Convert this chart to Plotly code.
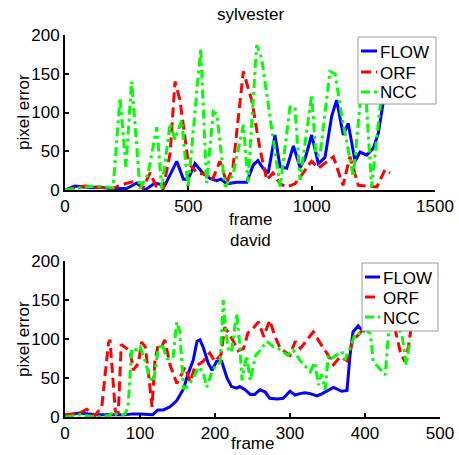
import plotly.graph_objects as go
from plotly.subplots import make_subplots

########## sylvester (frames) ##########
syl_flow_frame = [0, 40, 101, 142, 182, 250, 291, 324, 365, 405, 453, 480, 499, 527, 561, 588, 615, 632, 656,
                  696, 737, 763, 782, 803, 824, 851, 872, 899, 926, 953, 973, 1000, 1027, 1054, 1081, 1101,
                  1128, 1148, 1176, 1196, 1223, 1250, 1270, 1290, 1301]
syl_flow_err = [0, 5, 3, 4, 2, 2, 9, 0, 9, 6, 37, 14, 14, 34, 21, 15, 12, 14, 8,
                10, 10, 32, 38, 28, 22, 71, 30, 28, 57, 29, 40, 71, 34, 42, 95, 116,
                71, 86, 37, 49, 45, 54, 73, 113, 125]

syl_orf_frame = [0, 40, 81, 142, 195, 215, 243, 291, 316, 345, 369, 397, 426, 446, 466, 500, 534, 574, 596,
                 628, 656, 681, 723, 757, 791, 818, 843, 872, 899, 932, 966, 986, 1000, 1027, 1054, 1088,
                 1127, 1155, 1189, 1220, 1264, 1297, 1318]
syl_orf_err = [0, 3, 5, 3, 2, 5, 8, 12, 3, 22, 5, 0, 47, 140, 116, 35, 22, 20, 12,
               37, 9, 30, 153, 116, 52, 13, 22, 8, 4, 8, 22, 32, 37, 28, 35, 43,
               6, 43, 6, 5, 4, 26, 22]

syl_ncc_frame = [0, 61, 122, 195, 223, 247, 270, 304, 336, 372, 392, 426, 446, 473, 499, 550, 574, 601, 615,
                 649, 681, 723, 742, 777, 797, 872, 912, 932, 953, 1000, 1017, 1034, 1074, 1095, 1122,
                 1169, 1196, 1220, 1243, 1277, 1297]
syl_ncc_err = [0, 3, 5, 3, 119, 30, 140, 2, 20, 81, 2, 86, 65, 90, 2, 183, 9, 101, 98,
               4, 20, 84, 10, 187, 170, 4, 107, 107, 13, 123, 45, 45, 153, 150, 95,
               17, 112, 120, 4, 107, 150]

########## david ##########
dav_flow_frame = [0, 20, 40, 60, 80, 91, 100, 117, 124, 131, 140, 149, 158, 164, 171, 176, 180, 184, 191,
                  196, 202, 209, 216, 222, 229, 233, 240, 247, 253, 260, 267, 273, 283, 291, 300, 307,
                  313, 320, 327, 336, 343, 358, 369, 376, 380, 384, 391, 396, 400]
dav_flow_err = [2, 5, 3, 3, 3, 4, 4, 3, 9, 9, 13, 21, 36, 55, 73, 97, 99, 90, 69,
                60, 71, 71, 50, 39, 37, 39, 35, 29, 29, 35, 32, 24, 23, 24, 33, 28,
                30, 31, 30, 27, 30, 38, 33, 34, 79, 109, 117, 111, 110]

dav_orf_frame = [0, 20, 29, 40, 49, 58, 60, 64, 67, 71, 75, 82, 87, 91, 98, 102, 107, 112, 116, 120, 124,
                 129, 133, 140, 149, 156, 160, 167, 173, 184, 193, 200, 208, 213, 220, 231, 238, 244,
                 252, 258, 265, 273, 280, 287, 293, 300, 307, 314, 322, 331, 340, 349, 358, 367, 376,
                 384, 393, 398, 410, 425, 440, 447, 453, 458, 462]
dav_orf_err = [3, 5, 10, 2, 13, 95, 99, 43, 8, 4, 93, 88, 84, 60, 69, 96, 90, 50, 13, 73, 91,
               90, 99, 67, 43, 56, 64, 45, 64, 71, 82, 71, 80, 115, 105, 85, 88, 108,
               115, 122, 103, 124, 103, 88, 84, 79, 97, 88, 98, 109, 95, 82, 67, 77, 72,
               99, 107, 115, 120, 118, 113, 84, 71, 91, 118]

dav_ncc_frame = [0, 20, 40, 60, 64, 70, 80, 84, 89, 96, 100, 107, 113, 118, 124, 129, 136, 144, 149, 153,
                 158, 164, 171, 178, 184, 189, 196, 202, 207, 211, 214, 218, 222, 229, 233, 236, 242,
                 247, 254, 260, 269, 278, 284, 297, 304, 313, 327, 333, 338, 342, 347, 351, 355, 362,
                 369, 373, 380, 387, 393, 400, 407, 411, 420, 427, 431, 439, 449, 455, 460]
dav_ncc_err = [0, 3, 0, 2, 7, 2, 4, 13, 88, 86, 90, 71, 50, 45, 86, 94, 75, 75, 122, 110,
               36, 40, 50, 64, 58, 38, 58, 67, 70, 150, 115, 84, 84, 133, 92, 47, 79,
               47, 79, 85, 97, 90, 88, 79, 86, 73, 58, 70, 41, 55, 35, 79, 75, 80,
               84, 73, 88, 107, 107, 112, 107, 71, 62, 54, 105, 118, 107, 67, 98]

names = ['FLOW', 'ORF', 'NCC']
colors = ['#0000ff', '#ff0000', '#00ff00']
dashes = ['solid', '10px,5px', '9px,4px,3px,4px']
font = 'Liberation Sans, Arial, sans-serif'
W, H = 459, 455


def px(x):
    return x / W


def py(y):
    return 1 - y / H


fig = make_subplots(rows=2, cols=1)

top = [(syl_flow_frame, syl_flow_err), (syl_orf_frame, syl_orf_err), (syl_ncc_frame, syl_ncc_err)]
bottom = [(dav_flow_frame, dav_flow_err), (dav_orf_frame, dav_orf_err), (dav_ncc_frame, dav_ncc_err)]

for row, series in [(1, top), (2, bottom)]:
    for i, (x, y) in enumerate(series):
        fig.add_trace(go.Scatter(x=x, y=y, mode='lines', name=names[i], showlegend=False,
                                 line=dict(color=colors[i], width=3, dash=dashes[i])), row=row, col=1)

axis_style = dict(showline=True, linecolor='black', linewidth=2, ticks='inside', ticklen=4,
                  tickcolor='black', tickwidth=1.5, showgrid=False, zeroline=False, automargin=False,
                  tickfont=dict(size=17, color='black', family=font))

fig.update_xaxes(axis_style)
fig.update_yaxes(axis_style)
fig.update_xaxes(range=[0, 1500], tickvals=[0, 500, 1000, 1500], domain=[px(65), px(435)], row=1, col=1)
fig.update_xaxes(range=[0, 500], tickvals=[0, 100, 200, 300, 400, 500], domain=[px(65), px(440)], row=2, col=1)
fig.update_yaxes(range=[0, 200], tickvals=[0, 50, 100, 150, 200], domain=[py(190), py(35)], row=1, col=1)
fig.update_yaxes(range=[0, 200], tickvals=[0, 50, 100, 150, 200], domain=[py(417), py(261)], row=2, col=1)

txt = dict(showarrow=False, xref='paper', yref='paper', xanchor='center', yanchor='middle',
           font=dict(size=17, color='black', family=font))
fig.add_annotation(text='sylvester', x=px(250), y=py(15), **txt)
fig.add_annotation(text='frame', x=px(250), y=py(219), **txt)
fig.add_annotation(text='david', x=px(250), y=py(240), **txt)
fig.add_annotation(text='frame', x=px(252), y=py(443), **txt)
fig.add_annotation(text='pixel error', x=px(23), y=py(112), textangle=-90, **txt)
fig.add_annotation(text='pixel error', x=px(23), y=py(339), textangle=-90, **txt)


# MATLAB-style legend boxes, short line samples
def add_legend(box, line_x0, line_x1, item_y):
    x0, y0, x1, y1 = box
    fig.add_shape(type='rect', xref='paper', yref='paper', x0=px(x0), x1=px(x1), y0=py(y0), y1=py(y1),
                  fillcolor='white', line=dict(color='#9a9a9a', width=1), layer='above')
    for i, yy in enumerate(item_y):
        fig.add_shape(type='line', xref='paper', yref='paper', x0=px(line_x0), x1=px(line_x1),
                      y0=py(yy), y1=py(yy), line=dict(color=colors[i], width=3, dash=dashes[i]),
                      layer='above')
        fig.add_annotation(text=names[i], x=px(line_x1 + 1), y=py(yy + 1), showarrow=False,
                           xref='paper', yref='paper', xanchor='left', yanchor='middle',
                           font=dict(size=17, color='black', family=font))


add_legend((358, 37, 436, 104), 361, 377, [51, 72, 92])
add_legend((362, 263, 438, 331), 365, 380, [277, 297, 317])

fig.update_layout(
    template='none',
    width=W, height=H, margin=dict(l=0, r=0, t=0, b=0, pad=0),
    paper_bgcolor='white', plot_bgcolor='white',
    font=dict(family=font, color='black'),
    showlegend=False,
)

fig.write_html("out.html", config={'displayModeBar': False},
               post_script="document.body.style.margin='0px';")
